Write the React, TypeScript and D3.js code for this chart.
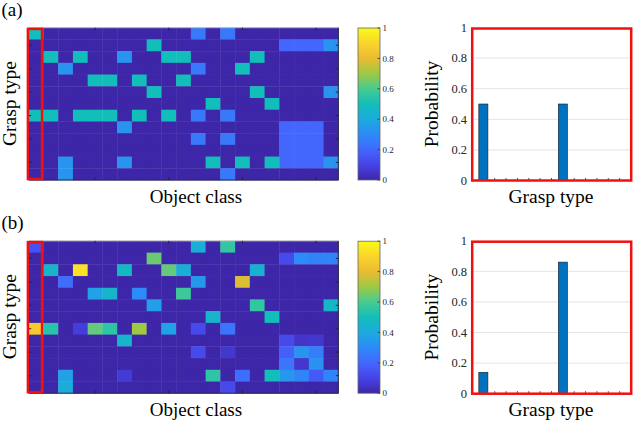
import { useEffect, useRef } from 'react'
import * as d3 from 'd3'

const FONT = '"Liberation Serif", "Times New Roman", serif'

// rows = grasp type 1..13 (top to bottom), columns = object class 1..21
const GRASP_TYPES = d3.range(1, 14)
const OBJECT_CLASSES = d3.range(1, 22)

const HEAT_A = [
  [0.5, 0, 0, 0, 0, 0, 0, 0, 0, 0, 0, 0.25, 0, 0.25, 0, 0, 0, 0, 0, 0, 0],
  [0, 0, 0, 0, 0, 0, 0, 0, 0.5, 0, 0, 0, 0, 0, 0, 0, 0, 0.2, 0.2, 0.2, 0.33],
  [0, 0.5, 0, 0.5, 0, 0, 0.33, 0, 0, 0.5, 0.5, 0, 0, 0, 0, 0.5, 0, 0, 0, 0, 0],
  [0, 0, 0.33, 0, 0, 0, 0, 0, 0, 0, 0, 0.25, 0, 0, 0.5, 0, 0, 0, 0, 0, 0],
  [0, 0, 0, 0, 0.5, 0.5, 0, 0.5, 0, 0, 0.5, 0, 0, 0, 0, 0, 0, 0, 0, 0, 0],
  [0, 0, 0, 0, 0, 0, 0, 0, 0.5, 0, 0, 0, 0, 0, 0, 0.5, 0, 0, 0, 0, 0.33],
  [0, 0, 0, 0, 0, 0, 0, 0, 0, 0, 0, 0, 0.5, 0, 0, 0, 0.5, 0, 0, 0, 0],
  [0.5, 0.5, 0, 0.5, 0.5, 0.5, 0, 0.5, 0, 0.5, 0, 0.25, 0, 0.25, 0, 0, 0, 0, 0, 0, 0],
  [0, 0, 0, 0, 0, 0, 0.33, 0, 0, 0, 0, 0, 0, 0, 0, 0, 0, 0.2, 0.2, 0.2, 0],
  [0, 0, 0, 0, 0, 0, 0, 0, 0, 0, 0, 0.25, 0, 0.25, 0, 0, 0, 0.2, 0.2, 0.2, 0],
  [0, 0, 0, 0, 0, 0, 0, 0, 0, 0, 0, 0, 0, 0, 0, 0, 0, 0.2, 0.2, 0.2, 0],
  [0, 0, 0.33, 0, 0, 0, 0.33, 0, 0, 0, 0, 0, 0.5, 0, 0.5, 0, 0.5, 0.2, 0.2, 0.2, 0.33],
  [0, 0, 0.33, 0, 0, 0, 0, 0, 0, 0, 0, 0, 0, 0.25, 0, 0, 0, 0, 0, 0, 0],
]

const HEAT_B = [
  [0.14, 0, 0, 0, 0, 0, 0, 0, 0, 0, 0, 0.42, 0, 0.56, 0, 0, 0, 0, 0, 0, 0],
  [0, 0, 0, 0, 0, 0, 0, 0, 0.64, 0, 0, 0, 0, 0, 0, 0, 0, 0.12, 0.3, 0.28, 0.28],
  [0, 0.46, 0, 0.93, 0, 0, 0.48, 0, 0, 0.63, 0.42, 0, 0, 0, 0, 0.44, 0, 0, 0, 0, 0],
  [0, 0, 0.22, 0, 0, 0, 0, 0, 0, 0, 0, 0.34, 0, 0, 0.78, 0, 0, 0, 0, 0, 0],
  [0, 0, 0, 0, 0.37, 0.45, 0, 0.3, 0, 0, 0.58, 0, 0, 0, 0, 0, 0, 0, 0, 0, 0],
  [0, 0, 0, 0, 0, 0, 0, 0, 0.36, 0, 0, 0, 0, 0, 0, 0.56, 0, 0, 0, 0, 0.46],
  [0, 0, 0, 0, 0, 0, 0, 0, 0, 0, 0, 0, 0.45, 0, 0, 0, 0.5, 0, 0, 0, 0],
  [0.86, 0.54, 0, 0.08, 0.63, 0.55, 0, 0.7, 0, 0.37, 0, 0.12, 0, 0.24, 0, 0, 0, 0, 0, 0, 0],
  [0, 0, 0, 0, 0, 0, 0.45, 0, 0, 0, 0, 0, 0, 0, 0, 0, 0, 0.12, 0.05, 0.06, 0],
  [0, 0, 0, 0, 0, 0, 0, 0, 0, 0, 0, 0.12, 0, 0.06, 0, 0, 0, 0.18, 0.33, 0.26, 0],
  [0, 0, 0, 0, 0, 0, 0, 0, 0, 0, 0, 0, 0, 0, 0, 0, 0, 0.24, 0.06, 0.32, 0],
  [0, 0, 0.37, 0, 0, 0, 0.07, 0, 0, 0, 0, 0, 0.55, 0, 0.22, 0, 0.5, 0.34, 0.28, 0.16, 0.28],
  [0, 0, 0.41, 0, 0, 0, 0, 0, 0, 0, 0, 0, 0, 0.12, 0, 0, 0, 0, 0, 0, 0],
]

const PROB_A = [0.5, 0, 0, 0, 0, 0, 0, 0.5, 0, 0, 0, 0, 0]
const PROB_B = [0.14, 0, 0, 0, 0, 0, 0, 0.86, 0, 0, 0, 0, 0]

const PROB_TICKS = [0, 0.2, 0.4, 0.6, 0.8, 1]
const CBAR_TICKS = [0, 0.2, 0.4, 0.6, 0.8, 1]
const HEAT_Y_TICKS = [2, 4, 6, 8, 10, 12]
const HEAT_X_TICKS = [5, 10, 15, 20]

// parula, sampled every 0.1
const PARULA = [
  '#3e26a8', '#4743e7', '#4367fd', '#2d8bf7', '#1caadf', '#12beb9',
  '#48cb91', '#9ec944', '#eabb31', '#fbd42e', '#f9fb15',
]

const PANELS = [
  { label: '(a)', heat: HEAT_A, prob: PROB_A },
  { label: '(b)', heat: HEAT_B, prob: PROB_B },
]

function drawPanel(svg, defs, panel, dy, idx) {
  const g = svg.append('g').attr('transform', `translate(0,${dy})`)

  const color = d3
    .scaleLinear()
    .domain(PARULA.map((_, i) => i / 10))
    .range(PARULA)
    .interpolate(d3.interpolateRgb)

  g.append('text')
    .attr('x', 1.5)
    .attr('y', 15.5)
    .attr('font-size', 19)
    .text(panel.label)

  // heatmap
  const x = d3.scaleBand().domain(OBJECT_CLASSES).range([28.7, 338.3])
  const y = d3.scaleBand().domain(GRASP_TYPES).range([27.7, 180])

  const cells = []
  panel.heat.forEach((row, r) =>
    row.forEach((v, c) => cells.push({ g: GRASP_TYPES[r], o: OBJECT_CLASSES[c], v }))
  )

  g.append('g')
    .selectAll('rect')
    .data(cells)
    .enter()
    .append('rect')
    .attr('x', d => x(d.o))
    .attr('y', d => y(d.g))
    .attr('width', x.bandwidth() + 0.4)
    .attr('height', y.bandwidth() + 0.4)
    .attr('fill', d => color(d.v))

  const [x0, x1] = x.range()
  const [y0, y1] = y.range()

  // axes box
  g.append('line').attr('x1', x0).attr('x2', x1).attr('y1', y0).attr('y2', y0)
    .attr('stroke', '#b8b8b8').attr('stroke-width', 1)
  g.append('line').attr('x1', x0).attr('x2', x1).attr('y1', y1).attr('y2', y1)
    .attr('stroke', '#2a2a3a').attr('stroke-width', 1)
  g.append('line').attr('x1', x1).attr('x2', x1).attr('y1', y0).attr('y2', y1)
    .attr('stroke', '#2a2a3a').attr('stroke-width', 1)

  const tickCol = '#22223a'
  HEAT_Y_TICKS.forEach(t => {
    const ty = y(t) + y.bandwidth() / 2
    g.append('line').attr('x1', x0).attr('x2', x0 + 2.5).attr('y1', ty).attr('y2', ty)
      .attr('stroke', tickCol)
    g.append('line').attr('x1', x1 - 2.5).attr('x2', x1).attr('y1', ty).attr('y2', ty)
      .attr('stroke', tickCol)
  })
  HEAT_X_TICKS.forEach(t => {
    const tx = x(t) + x.bandwidth() / 2
    g.append('line').attr('x1', tx).attr('x2', tx).attr('y1', y0).attr('y2', y0 + 2.5)
      .attr('stroke', tickCol)
    g.append('line').attr('x1', tx).attr('x2', tx).attr('y1', y1 - 2.5).attr('y2', y1)
      .attr('stroke', tickCol)
  })

  // highlight of first object class
  g.append('rect')
    .attr('x', x(OBJECT_CLASSES[0]) - 0.8)
    .attr('y', y0 + 1.2)
    .attr('width', x.bandwidth() - 0.6)
    .attr('height', y1 - y0 - 2.2)
    .attr('fill', 'none')
    .attr('stroke', '#f01010')
    .attr('stroke-width', 2.5)

  g.append('text')
    .attr('transform', `translate(15.5,103.5) rotate(-90)`)
    .attr('text-anchor', 'middle')
    .attr('font-size', 19.5)
    .text('Grasp type')

  g.append('text')
    .attr('x', 196)
    .attr('y', 202.5)
    .attr('text-anchor', 'middle')
    .attr('font-size', 19)
    .text('Object class')

  // colorbar
  const gradId = `parula-${idx}`
  const grad = defs.append('linearGradient')
    .attr('id', gradId)
    .attr('x1', '0%').attr('x2', '0%').attr('y1', '100%').attr('y2', '0%')
  PARULA.forEach((c, i) => {
    grad.append('stop').attr('offset', `${i * 10}%`).attr('stop-color', c)
  })

  const cb = d3.scaleLinear().domain([0, 1]).range([180, 28])
  const cbX0 = 358
  const cbX1 = 380
  g.append('rect')
    .attr('x', cbX0)
    .attr('y', cb(1))
    .attr('width', cbX1 - cbX0)
    .attr('height', cb(0) - cb(1))
    .attr('fill', `url(#${gradId})`)
    .attr('stroke', '#666')
    .attr('stroke-width', 0.8)

  CBAR_TICKS.forEach(t => {
    g.append('line').attr('x1', cbX1 - 2.5).attr('x2', cbX1).attr('y1', cb(t)).attr('y2', cb(t))
      .attr('stroke', '#333').attr('stroke-width', 0.8)
    g.append('text')
      .attr('x', 382.5)
      .attr('y', cb(t))
      .attr('dy', '0.35em')
      .attr('font-size', 9)
      .attr('fill', '#262626')
      .text(d3.format('~g')(t))
  })

  // probability bars
  const xb = d3.scaleLinear().domain([0, GRASP_TYPES.length + 1]).range([472, 631])
  const yb = d3.scaleLinear().domain([0, 1]).range([180.5, 27.5])

  PROB_TICKS.filter(t => t > 0 && t < 1).forEach(t => {
    g.append('line').attr('x1', xb(0)).attr('x2', xb(14)).attr('y1', yb(t)).attr('y2', yb(t))
      .attr('stroke', '#e4e4e4').attr('stroke-width', 1)
  })

  GRASP_TYPES.forEach(t => {
    g.append('line').attr('x1', xb(t)).attr('x2', xb(t)).attr('y1', yb(0)).attr('y2', yb(0) - 2.5)
      .attr('stroke', '#262626').attr('stroke-width', 0.8)
  })

  g.append('g')
    .selectAll('rect')
    .data(panel.prob.map((v, i) => ({ t: GRASP_TYPES[i], v })).filter(d => d.v > 0))
    .enter()
    .append('rect')
    .attr('x', d => xb(d.t - 0.4))
    .attr('y', d => yb(d.v))
    .attr('width', xb(0.8) - xb(0))
    .attr('height', d => yb(0) - yb(d.v))
    .attr('fill', '#0072bd')
    .attr('stroke', '#1a1a2a')
    .attr('stroke-width', 0.6)

  PROB_TICKS.forEach(t => {
    g.append('text')
      .attr('x', 467)
      .attr('y', yb(t))
      .attr('dy', '0.35em')
      .attr('text-anchor', 'end')
      .attr('font-size', 12.5)
      .attr('fill', '#262626')
      .text(d3.format('~g')(t))
  })

  g.append('rect')
    .attr('x', 472.2)
    .attr('y', 28.5)
    .attr('width', 159)
    .attr('height', 152)
    .attr('fill', 'none')
    .attr('stroke', '#f01010')
    .attr('stroke-width', 2.5)

  g.append('text')
    .attr('transform', `translate(438,104) rotate(-90)`)
    .attr('text-anchor', 'middle')
    .attr('font-size', 19.5)
    .text('Probability')

  g.append('text')
    .attr('x', 551)
    .attr('y', 203.3)
    .attr('text-anchor', 'middle')
    .attr('font-size', 19.5)
    .text('Grasp type')
}

export default function App() {
  const svgRef = useRef(null)

  useEffect(() => {
    const svg = d3.select(svgRef.current)
    svg.selectAll('*').remove()
    const defs = svg.append('defs')
    svg.append('rect').attr('width', 634).attr('height', 422).attr('fill', '#fff')
    const root = svg.append('g')
      .attr('font-family', FONT)
      .attr('fill', '#000')
    drawPanel(root, defs, PANELS[0], 0, 0)
    drawPanel(root, defs, PANELS[1], 213.2, 1)
  }, [])

  return (
    <div style={{ position: 'absolute', left: 0, top: 0 }}>
      <svg ref={svgRef} width={634} height={422} style={{ display: 'block' }} />
    </div>
  )
}
